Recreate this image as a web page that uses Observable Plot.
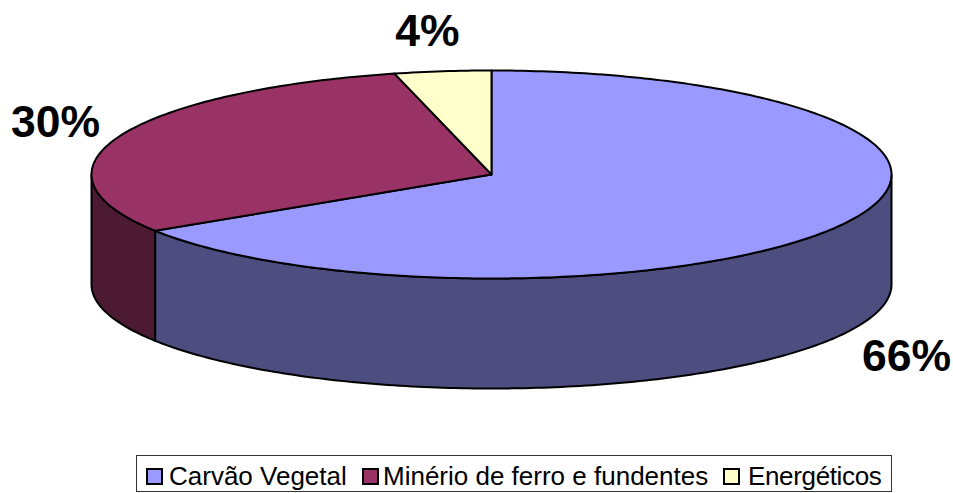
<!DOCTYPE html>
<html><head><meta charset="utf-8">
<script src="https://cdn.jsdelivr.net/npm/d3@7"></script>
<script src="https://cdn.jsdelivr.net/npm/@observablehq/plot@0.6"></script>
<style>html,body{margin:0;padding:0;background:#fff}svg{display:block}</style>
</head><body><div id="c"></div>
<script>
const categories = ["Carvão Vegetal", "Minério de ferro e fundentes", "Energéticos"];
const shares = [65.9, 30.2, 3.9];
const labels = ["66%", "30%", "4%"];
const topColors = ["#9999ff", "#993366", "#ffffcc"];
const sideColors = ["#4d4d80", "#4d1a33", "#808066"];

const cx = 491, cy = 174, rx = 400, ry = 104, depth = 110;
const pt = (f, d = 0) => { const a = f * 2 * Math.PI; return [cx + rx * Math.sin(a), cy - ry * Math.cos(a) + d]; };
const arc = (f0, f1, d = 0) => { const n = Math.max(2, Math.ceil((f1 - f0) * 400)); return d3.range(n + 1).map(i => pt(f0 + (f1 - f0) * i / n, d)); };

const sum = d3.sum(shares);
let acc = 0;
const slices = shares.map((s, i) => { const f0 = acc / sum; acc += s; return {i, f0, f1: acc / sum}; });

const marks = [];
const poly = (points, fill) => marks.push(Plot.line([...points, points[0], points[1]], {x: d => d[0], y: d => d[1], fill, stroke: "#000", strokeWidth: 2, curve: "linear", strokeLinejoin: "round"}));

slices.forEach(({i, f0, f1}) => {
  const a = Math.max(f0, 0.25), b = Math.min(f1, 0.75);
  if (b > a) poly([...arc(a, b, 0), ...arc(a, b, depth).reverse()], sideColors[i]);
});
slices.forEach(({i, f0, f1}) => poly([[cx, cy], ...arc(f0, f1)], topColors[i]));

const labelX = [906, 55, 427], labelY = [356, 122, 31];
marks.push(Plot.text(labels, {x: (d, i) => labelX[i], y: (d, i) => labelY[i], text: d => d, fontSize: 44.5, fontWeight: "bold", fontFamily: "Liberation Sans", fill: "#000"}));

const plot = Plot.plot({
  width: 953, height: 493, margin: 0,
  x: {domain: [0, 953], range: [0, 953], axis: null},
  y: {domain: [0, 493], range: [0, 493], axis: null},
  marks
});
document.getElementById("c").appendChild(plot);

const leg = document.createElement("div");
leg.style.cssText = "position:absolute;left:136px;top:455px;width:756px;height:37px;box-sizing:border-box;border:1px solid #333;background:#fff;font:26px 'Liberation Sans';white-space:nowrap;color:#000";
const swatchX = [9, 225, 586], textX = [32, 246, 611], spacing = [0, 0, -0.35];
categories.forEach((c, i) => {
  const sw = document.createElement("span");
  sw.style.cssText = `position:absolute;left:${swatchX[i]}px;top:12px;width:17px;height:17px;box-sizing:border-box;border:2px solid #000;background:${topColors[i]}`;
  const tx = document.createElement("span");
  tx.style.cssText = `position:absolute;left:${textX[i]}px;top:5px;line-height:30px;letter-spacing:${spacing[i]}px`;
  tx.textContent = c;
  leg.append(sw, tx);
});
document.body.appendChild(leg);
</script></body></html>
